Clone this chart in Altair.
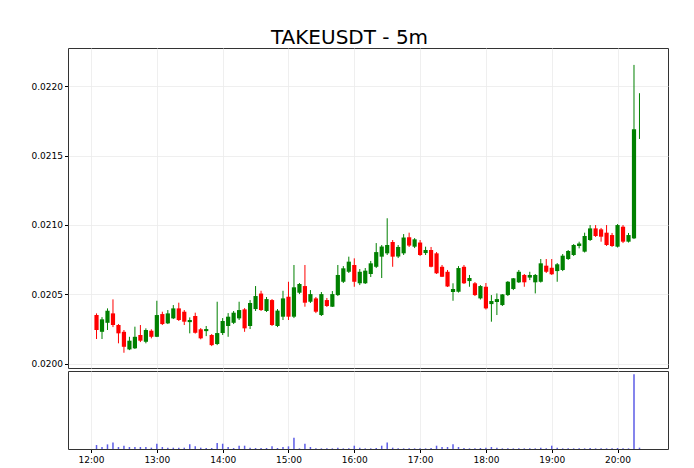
import pandas as pd
import altair as alt

# 5-minute candles, 12:05 -> 20:20
times = pd.date_range("2024-01-01 12:05", periods=100, freq="5min")

opens = [
    0.020350, 0.020229, 0.020294, 0.020362, 0.020278, 0.020229, 0.020102, 0.020110, 0.020206, 0.020157,
    0.020237, 0.020193, 0.020357, 0.020290, 0.020326, 0.020398, 0.020374, 0.020299, 0.020343, 0.020247,
    0.020234, 0.020206, 0.020141, 0.020220, 0.020271, 0.020294, 0.020326, 0.020391, 0.020271, 0.020393,
    0.020505, 0.020379, 0.020458, 0.020271, 0.020338, 0.020482, 0.020338, 0.020511, 0.020559, 0.020446,
    0.020470, 0.020350, 0.020458, 0.020410, 0.020494, 0.020590, 0.020662, 0.020711, 0.020579, 0.020579,
    0.020646, 0.020698, 0.020771, 0.020795, 0.020877, 0.020772, 0.020795, 0.020911, 0.020843, 0.020873,
    0.020797, 0.020819, 0.020795, 0.020698, 0.020662, 0.020516, 0.020518, 0.020698, 0.020595, 0.020579,
    0.020470, 0.020554, 0.020429, 0.020444, 0.020422, 0.020494, 0.020538, 0.020586, 0.020639, 0.020620,
    0.020586, 0.020590, 0.020706, 0.020691, 0.020667, 0.020675, 0.020754, 0.020783, 0.020848, 0.020807,
    0.020891, 0.020975, 0.020968, 0.020944, 0.020927, 0.020843, 0.020987, 0.020879, 0.020903, 0.021634,
]
highs = [
    0.020362, 0.020335, 0.020398, 0.020463, 0.020285, 0.020242, 0.020193, 0.020266, 0.020278, 0.020254,
    0.020247, 0.020453, 0.020374, 0.020386, 0.020422, 0.020439, 0.020386, 0.020333, 0.020367, 0.020256,
    0.020271, 0.020213, 0.020446, 0.020328, 0.020364, 0.020379, 0.020446, 0.020400, 0.020458, 0.020559,
    0.020525, 0.020480, 0.020465, 0.020393, 0.020525, 0.020590, 0.020711, 0.020581, 0.020711, 0.020530,
    0.020480, 0.020516, 0.020473, 0.020523, 0.020711, 0.020703, 0.020771, 0.020759, 0.020682, 0.020689,
    0.020740, 0.020869, 0.020855, 0.021048, 0.020891, 0.020855, 0.020934, 0.020944, 0.020905, 0.020891,
    0.020843, 0.020841, 0.020804, 0.020711, 0.020675, 0.020579, 0.020703, 0.020711, 0.020639, 0.020588,
    0.020566, 0.020581, 0.020494, 0.020506, 0.020501, 0.020595, 0.020617, 0.020675, 0.020646, 0.020662,
    0.020646, 0.020754, 0.020754, 0.020754, 0.020725, 0.020790, 0.020819, 0.020862, 0.020879, 0.020944,
    0.020999, 0.020999, 0.020978, 0.020999, 0.020942, 0.021006, 0.020999, 0.020942, 0.022154, 0.021950,
]
lows = [
    0.020177, 0.020177, 0.020242, 0.020263, 0.020146, 0.020078, 0.020097, 0.020105, 0.020155, 0.020146,
    0.020182, 0.020191, 0.020278, 0.020285, 0.020321, 0.020307, 0.020278, 0.020218, 0.020216, 0.020175,
    0.020198, 0.020126, 0.020133, 0.020206, 0.020193, 0.020285, 0.020314, 0.020229, 0.020249, 0.020379,
    0.020379, 0.020372, 0.020271, 0.020263, 0.020314, 0.020314, 0.020328, 0.020501, 0.020410, 0.020437,
    0.020364, 0.020343, 0.020408, 0.020408, 0.020487, 0.020581, 0.020653, 0.020554, 0.020566, 0.020574,
    0.020624, 0.020689, 0.020617, 0.020783, 0.020698, 0.020761, 0.020783, 0.020841, 0.020833, 0.020776,
    0.020783, 0.020694, 0.020646, 0.020624, 0.020552, 0.020453, 0.020512, 0.020574, 0.020554, 0.020487,
    0.020462, 0.020390, 0.020302, 0.020350, 0.020415, 0.020487, 0.020530, 0.020581, 0.020554, 0.020602,
    0.020506, 0.020584, 0.020653, 0.020639, 0.020590, 0.020667, 0.020747, 0.020776, 0.020831, 0.020801,
    0.020884, 0.020913, 0.020879, 0.020848, 0.020841, 0.020837, 0.020869, 0.020873, 0.020898, 0.021620,
]
closes = [
    0.020242, 0.020319, 0.020381, 0.020278, 0.020218, 0.020121, 0.020165, 0.020193, 0.020165, 0.020242,
    0.020193, 0.020350, 0.020285, 0.020362, 0.020398, 0.020314, 0.020302, 0.020314, 0.020222, 0.020182,
    0.020249, 0.020133, 0.020220, 0.020307, 0.020338, 0.020367, 0.020386, 0.020254, 0.020437, 0.020487,
    0.020386, 0.020465, 0.020278, 0.020382, 0.020470, 0.020338, 0.020550, 0.020574, 0.020439, 0.020501,
    0.020374, 0.020501, 0.020415, 0.020501, 0.020639, 0.020687, 0.020735, 0.020590, 0.020662, 0.020670,
    0.020723, 0.020804, 0.020844, 0.020855, 0.020771, 0.020841, 0.020909, 0.020851, 0.020896, 0.020783,
    0.020819, 0.020698, 0.020651, 0.020626, 0.020556, 0.020538, 0.020689, 0.020579, 0.020617, 0.020494,
    0.020559, 0.020398, 0.020451, 0.020465, 0.020499, 0.020590, 0.020615, 0.020662, 0.020586, 0.020639,
    0.020639, 0.020723, 0.020662, 0.020644, 0.020716, 0.020778, 0.020812, 0.020855, 0.020866, 0.020920,
    0.020975, 0.020920, 0.020915, 0.020855, 0.020848, 0.020999, 0.020879, 0.020927, 0.021690, 0.021634,
]
volumes = [
    12, 6, 14, 20, 6, 10, 6, 6, 6, 6,
    4, 16, 6, 4, 4, 4, 4, 14, 8, 4,
    3, 3, 18, 16, 6, 3, 10, 10, 4, 3,
    3, 3, 8, 3, 6, 8, 34, 2, 16, 6,
    2, 2, 2, 2, 4, 2, 2, 10, 4, 2,
    2, 3, 10, 20, 4, 2, 2, 2, 2, 2,
    2, 3, 10, 6, 6, 14, 6, 3, 2, 2,
    3, 4, 6, 4, 2, 2, 2, 2, 2, 2,
    2, 4, 2, 10, 4, 2, 2, 2, 2, 2,
    3, 2, 2, 2, 2, 3, 2, 2, 226, 4,
]
volumes = [v * 1000 for v in volumes]

df = pd.DataFrame({
    "time": times.strftime("%Y-%m-%dT%H:%M:%S"),
    "open": opens, "high": highs, "low": lows, "close": closes,
    "volume": volumes,
})
df["dir"] = ["up" if c >= o else "down" for o, c in zip(opens, closes)]

day = dict(year=2024, month=1, date=1)
x_domain = [alt.DateTime(hours=11, minutes=39, **day), alt.DateTime(hours=20, minutes=46, **day)]
hour_ticks = [alt.DateTime(hours=h, **day) for h in range(12, 21)]
price_ticks = [0.0200, 0.0205, 0.0210, 0.0215, 0.0220]

x_scale = alt.Scale(domain=x_domain, nice=False, padding=0)
color = alt.Color("dir:N", scale=alt.Scale(domain=["up", "down"], range=["#008000", "#ff0000"]), legend=None)
x_top = alt.X("time:T", scale=x_scale,
              axis=alt.Axis(values=hour_ticks, labels=False, ticks=False, domain=False, title=None))
y_price = alt.Y("low:Q", scale=alt.Scale(domain=[0.019968, 0.022276], nice=False, zero=False),
                axis=alt.Axis(values=price_ticks, format=".4f", title=None, domain=False, tickSize=3.5,
                              labelPadding=2))

base = alt.Chart(df)
wicks = base.mark_rule(strokeWidth=1).encode(x=x_top, y=y_price, y2="high:Q", color=color)
bodies = base.mark_bar(size=4.2).encode(x=x_top, y="open:Q", y2="close:Q", color=color)
price = (wicks + bodies).properties(width=600, height=320)

vol = base.mark_bar(size=1.5, color="#5c5ce6").encode(
    x=alt.X("time:T", scale=x_scale,
            axis=alt.Axis(values=hour_ticks, format="%H:%M", title=None, domain=False, tickSize=3.5,
                          labelPadding=3)),
    y=alt.Y("volume:Q", scale=alt.Scale(domain=[0, 236000], nice=False),
            axis=alt.Axis(labels=False, ticks=False, grid=False, domain=False, title=None)),
).properties(width=600, height=78)

chart = alt.vconcat(price, vol, spacing=0).properties(
    title=alt.Title("TAKEUSDT - 5m", fontSize=20, offset=0, anchor="middle"),
    padding={"left": 22, "top": 19, "right": 10, "bottom": 5},
).configure_view(
    stroke="#333333", strokeWidth=1
).configure_axis(
    labelFont="DejaVu Sans", labelFontSize=9, labelColor="black", tickColor="black",
    gridColor="#ebebeb", gridWidth=0.8,
).configure_title(
    font="DejaVu Sans", fontWeight="normal", color="black"
)

chart.save("out.html", embed_options={"renderer": "svg", "actions": False})
